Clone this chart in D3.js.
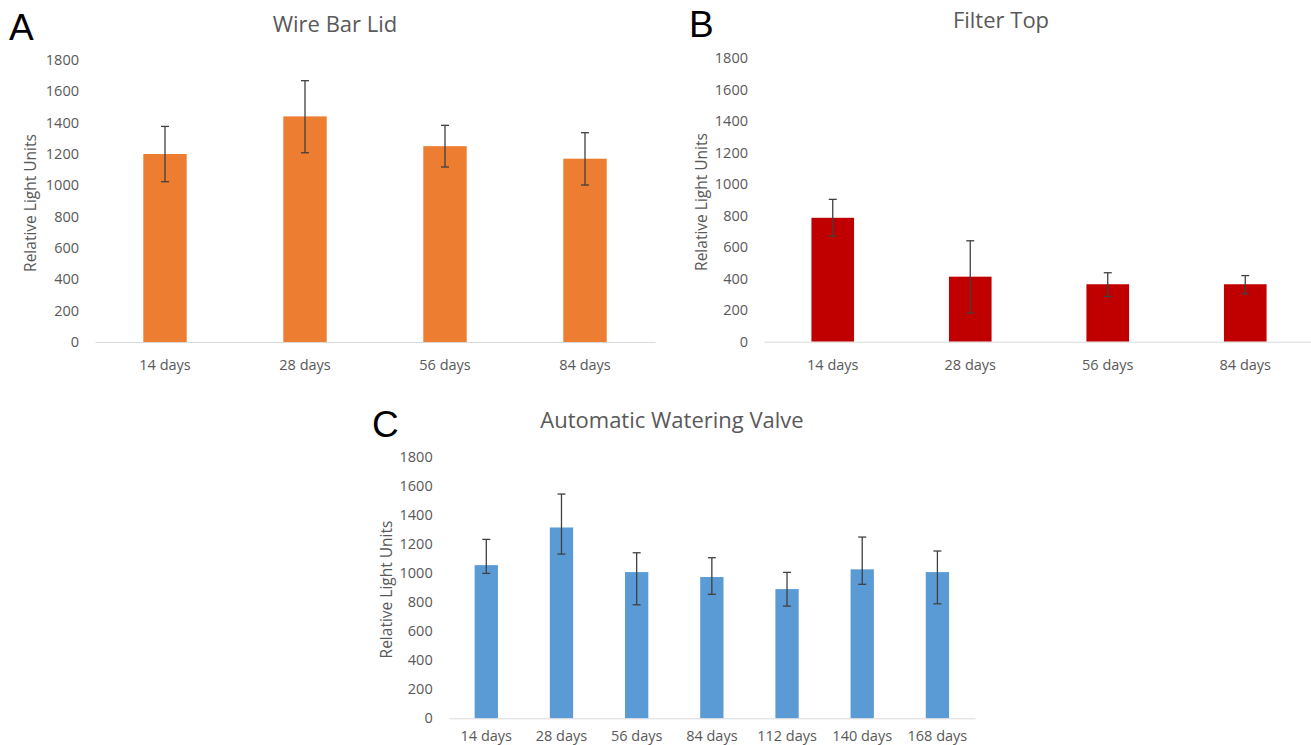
<!DOCTYPE html>
<html>
<head>
  <meta charset="utf-8">
  <style>
    body { margin: 0; background: #fff; }
    text { font-family: "Open Sans", sans-serif; }
    .tick text { fill: #595959; font-size: 14.5px; }
    .axis--x path { stroke: #d9d9d9; }
    .title { fill: #595959; font-size: 22px; }
    .ylabel { fill: #595959; font-size: 15.5px; }
    .letter { fill: #000; font-size: 37px; font-family: "Liberation Sans", sans-serif; }
    .err { stroke: #404040; stroke-width: 1.3px; }
  </style>
</head>
<body>
  <svg width="1311" height="745"></svg>
  <script src="https://d3js.org/d3.v7.min.js"></script>
  <script>

  // data
  var daysAB = ["14 days", "28 days", "56 days", "84 days"];
  var daysC = ["14 days", "28 days", "56 days", "84 days", "112 days", "140 days", "168 days"];
  var yTicks = [0, 200, 400, 600, 800, 1000, 1200, 1400, 1600, 1800];

  var wireMean = [1200, 1440, 1250, 1170];
  var wireLow  = [1023, 1208, 1117, 1002];
  var wireHigh = [1376, 1668, 1383, 1336];

  var filterMean = [787, 413, 365, 365];
  var filterLow  = [671, 182, 287, 304];
  var filterHigh = [904, 641, 438, 420];

  var valveMean = [1054, 1313, 1006, 972, 889, 1025, 1006];
  var valveLow  = [997, 1130, 781, 853, 772, 922, 788];
  var valveHigh = [1231, 1543, 1139, 1105, 1004, 1247, 1151];

  var svg = d3.select("svg");

  var panels = [
    { letter: "A", title: "Wire Bar Lid", cats: daysAB, mean: wireMean, low: wireLow, high: wireHigh,
      color: "#ed7d31", x0: 95, x1: 655, y0: 342, y1: 60, xpad: 18,
      titleX: 335, titleY: 32, letterX: 9, letterY: 40, labelX: 31 },
    { letter: "B", title: "Filter Top", cats: daysAB, mean: filterMean, low: filterLow, high: filterHigh,
      color: "#c00000", x0: 764, x1: 1314, y0: 341.7, y1: 58.3, xpad: 18,
      titleX: 1001, titleY: 28, letterX: 689, letterY: 37, labelX: 702 },
    { letter: "C", title: "Automatic Watering Valve", cats: daysC, mean: valveMean, low: valveLow, high: valveHigh,
      color: "#5b9bd5", x0: 448.7, x1: 975, y0: 718.3, y1: 456.7, xpad: 12,
      titleX: 672, titleY: 428, letterX: 372, letterY: 437, labelX: 387 }
  ];

  panels.forEach(function(p) {
    var x = d3.scaleBand().domain(p.cats).range([p.x0, p.x1]).paddingInner(0.69).paddingOuter(0.345);
    var y = d3.scaleLinear().domain([0, 1800]).range([p.y0, p.y1]);
    var g = svg.append("g");

    g.append("text").attr("class", "letter")
      .attr("x", p.letterX).attr("y", p.letterY).text(p.letter);

    g.append("text").attr("class", "title")
      .attr("x", p.titleX).attr("y", p.titleY)
      .attr("text-anchor", "middle").text(p.title);

    g.append("text").attr("class", "ylabel")
      .attr("transform", "translate(" + p.labelX + "," + ((p.y0 + p.y1) / 2 + 2) + ") rotate(-90)")
      .attr("text-anchor", "middle").attr("dy", "0.35em")
      .text("Relative Light Units");

    var ya = g.append("g")
      .attr("transform", "translate(" + p.x0 + ",0)")
      .call(d3.axisLeft(y).tickValues(yTicks).tickFormat(d3.format("d")).tickSize(0).tickPadding(16));
    ya.select(".domain").remove();

    g.append("g").selectAll("rect")
      .data(p.mean)
      .enter().append("rect")
      .attr("x", function(d, i) { return x(p.cats[i]); })
      .attr("y", function(d) { return y(d); })
      .attr("width", x.bandwidth())
      .attr("height", function(d) { return y(0) - y(d); })
      .attr("fill", p.color);

    g.append("g")
      .attr("class", "axis axis--x")
      .attr("transform", "translate(0," + p.y0 + ")")
      .call(d3.axisBottom(x).tickSize(0).tickSizeOuter(0).tickPadding(p.xpad));

    var err = g.append("g").selectAll("g")
      .data(p.mean)
      .enter().append("g");
    var cx = function(i) { return x(p.cats[i]) + x.bandwidth() / 2; };
    err.append("line").attr("class", "err")
      .attr("x1", function(d, i) { return cx(i); }).attr("x2", function(d, i) { return cx(i); })
      .attr("y1", function(d, i) { return y(p.low[i]); })
      .attr("y2", function(d, i) { return y(p.high[i]); });
    err.append("line").attr("class", "err")
      .attr("x1", function(d, i) { return cx(i) - 4; }).attr("x2", function(d, i) { return cx(i) + 4; })
      .attr("y1", function(d, i) { return y(p.high[i]); })
      .attr("y2", function(d, i) { return y(p.high[i]); });
    err.append("line").attr("class", "err")
      .attr("x1", function(d, i) { return cx(i) - 4; }).attr("x2", function(d, i) { return cx(i) + 4; })
      .attr("y1", function(d, i) { return y(p.low[i]); })
      .attr("y2", function(d, i) { return y(p.low[i]); });
  });

  </script>
</body>
</html>
